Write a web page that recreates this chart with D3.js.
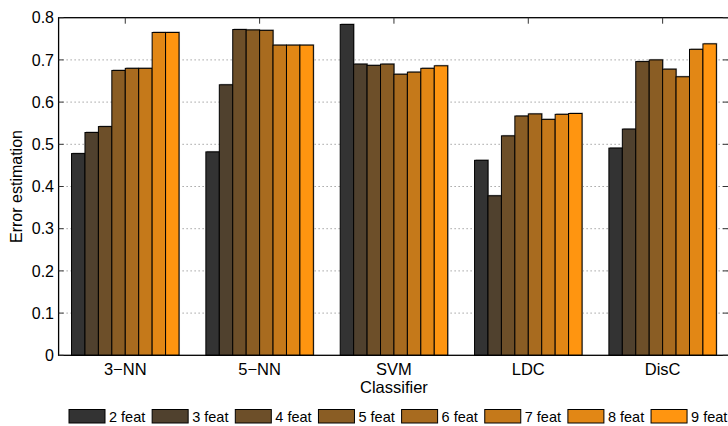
<!DOCTYPE html>
<html>
<head>
<meta charset="utf-8">
<script src="https://cdn.jsdelivr.net/npm/d3@7/dist/d3.min.js"></script>
<style>
  html, body { margin: 0; padding: 0; background: #fff; }
  svg { display: block; }
  text { font-family: "Liberation Sans", Arial, Helvetica, sans-serif; fill: #000; }
</style>
</head>
<body>
<svg id="chart" width="728" height="426"></svg>
<script>
// ---- data ----
const classifiers = ["3\u2212NN", "5\u2212NN", "SVM", "LDC", "DisC"];
const seriesNames = ["2 feat", "3 feat", "4 feat", "5 feat", "6 feat", "7 feat", "8 feat", "9 feat"];
const seriesColors = ["#333333", "#50412e", "#6d4f29", "#8a5d24", "#a86b1f", "#c5791a", "#e28715", "#ff9510"];
const nn3  = [0.478, 0.528, 0.542, 0.675, 0.680, 0.680, 0.765, 0.765];
const nn5  = [0.482, 0.641, 0.772, 0.771, 0.770, 0.735, 0.735, 0.735];
const svm  = [0.784, 0.690, 0.687, 0.690, 0.666, 0.671, 0.680, 0.686];
const ldc  = [0.462, 0.378, 0.520, 0.567, 0.572, 0.559, 0.571, 0.573];
const disc = [0.491, 0.536, 0.696, 0.700, 0.678, 0.660, 0.725, 0.738];
const yTicks = [0, 0.1, 0.2, 0.3, 0.4, 0.5, 0.6, 0.7, 0.8];
const yLabel = "Error estimation";
const xLabel = "Classifier";

const values = [nn3, nn5, svm, ldc, disc];

// ---- layout ----
const svg = d3.select("#chart");
const L = 58.6, R = 729.8, T = 17.7, B = 355.3;

const x = d3.scaleBand().domain(classifiers).range([58.1, R]).paddingInner(0.2).paddingOuter(0.1);
const xi = d3.scaleBand().domain(seriesNames).range([0, x.bandwidth()]);
const y = d3.scaleLinear().domain([0, 0.8]).range([B, T]);
const color = d3.scaleOrdinal().domain(seriesNames).range(seriesColors);

// grid (dotted)
svg.append("g").selectAll("line").data(yTicks.filter(d => d > 0 && d < 0.8)).join("line")
  .attr("x1", L).attr("x2", R).attr("y1", d => y(d)).attr("y2", d => y(d))
  .attr("stroke", "#777").attr("stroke-width", 1).attr("stroke-dasharray", "1,3");

// bars
const rows = [];
classifiers.forEach((c, i) => seriesNames.forEach((s, j) => rows.push({c, s, v: values[i][j]})));

const gBars = svg.append("g");
gBars.selectAll("rect.sh").data(rows).join("rect").attr("class", "sh")
  .attr("x", d => x(d.c) + xi(d.s) + 1).attr("y", d => y(d.v) - 1)
  .attr("width", xi.bandwidth()).attr("height", d => B - y(d.v) + 1)
  .attr("fill", "#aaa");
gBars.selectAll("rect.bar").data(rows).join("rect").attr("class", "bar")
  .attr("x", d => x(d.c) + xi(d.s)).attr("y", d => y(d.v))
  .attr("width", xi.bandwidth()).attr("height", d => B - y(d.v))
  .attr("fill", d => color(d.s)).attr("stroke", "#000").attr("stroke-width", 1);

// frame
svg.append("rect").attr("x", L).attr("y", T).attr("width", R - L).attr("height", B - T)
  .attr("fill", "none").attr("stroke", "#000").attr("stroke-width", 1.3);

// ticks inward
const gt = svg.append("g").attr("stroke", "#333").attr("stroke-width", 1);
gt.selectAll("line.ry").data(yTicks).join("line").attr("class", "ry")
  .attr("x1", R - 7).attr("x2", R).attr("y1", d => y(d)).attr("y2", d => y(d));
gt.selectAll("line.ly").data(yTicks).join("line").attr("class", "ly")
  .attr("x1", L).attr("x2", L + 5).attr("y1", d => y(d)).attr("y2", d => y(d));
gt.selectAll("line.tx").data(classifiers).join("line").attr("class", "tx")
  .attr("x1", d => x(d) + x.bandwidth() / 2).attr("x2", d => x(d) + x.bandwidth() / 2)
  .attr("y1", T).attr("y2", T + 6);

// y tick labels
svg.append("g").selectAll("text").data(yTicks).join("text")
  .attr("x", 54).attr("y", d => y(d)).attr("dy", "0.36em")
  .attr("text-anchor", "end").style("font-size", "16px")
  .text(d => d === 0 ? "0" : d3.format(".1f")(d));

// x category labels
svg.append("g").selectAll("text").data(classifiers).join("text")
  .attr("x", d => x(d) + x.bandwidth() / 2).attr("y", 375)
  .attr("text-anchor", "middle").style("font-size", "16.5px")
  .text(d => d);

// axis titles
svg.append("text").attr("x", (x(classifiers[2]) + x.bandwidth() / 2)).attr("y", 393)
  .attr("text-anchor", "middle").style("font-size", "16.5px").text(xLabel);
svg.append("text").attr("transform", `translate(22,${(T + B) / 2}) rotate(-90)`)
  .attr("text-anchor", "middle").style("font-size", "16px").text(yLabel);

// legend
const lg = svg.append("g").selectAll("g").data(seriesNames).join("g")
  .attr("transform", (d, i) => `translate(${69 + i * 83.15},409.5)`);
lg.append("rect").attr("width", 36).attr("height", 13.5)
  .attr("fill", d => color(d)).attr("stroke", "#000").attr("stroke-width", 1);
lg.append("text").attr("x", 40).attr("y", 12.5).style("font-size", "14.5px").text(d => d);
</script>
</body>
</html>
